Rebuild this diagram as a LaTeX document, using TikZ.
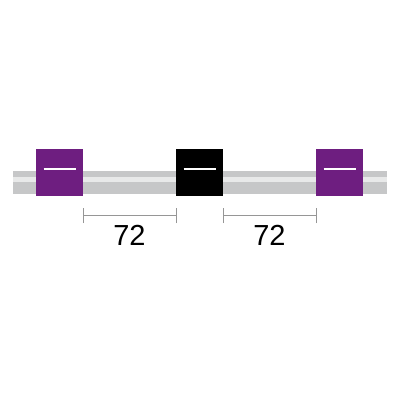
\documentclass[tikz,border=0pt]{standalone}
\usepackage{fontspec}
\setmainfont{Liberation Sans}
\definecolor{vio}{RGB}{110,30,128}
\definecolor{bardark}{RGB}{198,199,200}
\definecolor{barlight}{RGB}{232,233,233}
\definecolor{dimgray}{RGB}{150,150,150}
\begin{document}
\begin{tikzpicture}[x=1pt,y=-1pt,
  box/.style={draw=none,minimum width=47pt,minimum height=47pt,inner sep=0pt},
  whitebar/.style={white,line width=2pt},
  dimline/.style={dimgray,line width=0.6pt},
  lab/.style={font=\fontsize{29}{29}\selectfont,inner sep=0pt}]
\useasboundingbox (0,0) rectangle (400,400);
% bar
\fill[bardark] (13,171) rectangle (387,194);
\fill[barlight] (13,176.5) rectangle (387,182);
% boxes
\node[box,fill=vio] (b1) at (59.5,172.5) {};
\node[box,fill=black] (b2) at (199.5,172.5) {};
\node[box,fill=vio] (b3) at (339.5,172.5) {};
\foreach \b in {b1,b2,b3}{
  \draw[whitebar] ([xshift=-16pt,yshift=4pt]\b.center) -- ([xshift=16pt,yshift=4pt]\b.center);
}
% dimensions
\coordinate (d1a) at (83,215);
\coordinate (d1b) at (176,215);
\coordinate (d2a) at (223,215);
\coordinate (d2b) at (316,215);
\draw[dimline] (d1a) -- (d1b);
\draw[dimline] ([yshift=-8pt]d1a) -- ([yshift=7pt]d1a);
\draw[dimline] ([yshift=-8pt]d1b) -- ([yshift=7pt]d1b);
\draw[dimline] (d2a) -- (d2b);
\draw[dimline] ([yshift=-8pt]d2a) -- ([yshift=7pt]d2a);
\draw[dimline] ([yshift=-8pt]d2b) -- ([yshift=7pt]d2b);
\node[lab,anchor=base] (t1) at (129.5,245) {72};
\node[lab,anchor=base] (t2) at (269.5,245) {72};
\end{tikzpicture}
\end{document}
